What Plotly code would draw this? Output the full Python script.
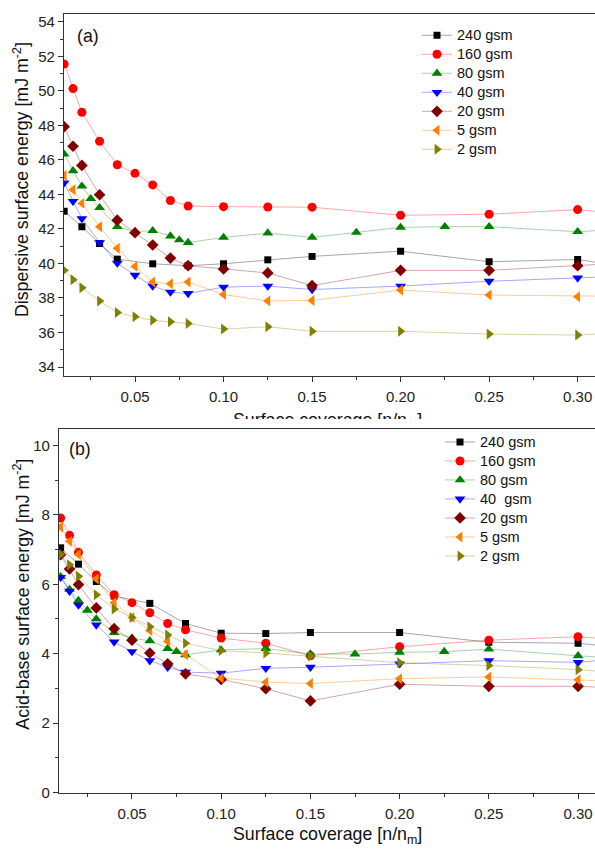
import plotly.graph_objects as go

W, H = 595, 854

# ---------------- data ----------------
names_a = ["240 gsm", "160 gsm", "80 gsm", "40 gsm", "20 gsm", "5 gsm", "2 gsm"]
names_b = ["240 gsm", "160 gsm", "80 gsm", "40  gsm", "20 gsm", "5 gsm", "2 gsm"]

x_std = [0.01, 0.015, 0.02, 0.03, 0.04, 0.05, 0.06, 0.07, 0.08, 0.10, 0.125, 0.15, 0.20, 0.25, 0.30, 0.35]
x_240 = [0.01, 0.02, 0.03, 0.04, 0.06, 0.08, 0.10, 0.125, 0.15, 0.20, 0.25, 0.30, 0.35]
x_80 = [0.01, 0.015, 0.02, 0.025, 0.03, 0.04, 0.05, 0.06, 0.07, 0.075, 0.08, 0.10, 0.125,
        0.15, 0.175, 0.20, 0.225, 0.25, 0.30, 0.35]

# (a) dispersive surface energy
ya_240 = [43.02, 42.13, 41.15, 40.25, 39.98, 39.87, 39.98, 40.21, 40.41, 40.71, 40.10, 40.23, 39.45]
ya_160 = [51.55, 50.13, 48.76, 47.08, 45.72, 45.22, 44.55, 43.65, 43.33, 43.29, 43.27, 43.26, 42.79, 42.85, 43.12, 42.63]
ya_80 = [46.33, 45.37, 44.48, 43.75, 43.23, 42.13, 41.85, 41.90, 41.59, 41.36, 41.21, 41.51, 41.76,
         41.51, 41.80, 42.09, 42.13, 42.13, 41.84, 42.13]
ya_40 = [44.67, 43.60, 42.60, 41.21, 40.02, 39.32, 38.69, 38.34, 38.26, 38.63, 38.69, 38.49, 38.69, 38.97, 39.16, 39.36]
ya_20 = [47.92, 46.79, 45.68, 43.98, 42.51, 41.78, 41.07, 40.31, 39.87, 39.68, 39.45, 38.72, 39.60, 39.60, 39.87, 40.16]
ya_5 = [45.09, 44.27, 43.48, 42.13, 40.88, 39.83, 38.92, 38.82, 38.92, 38.20, 37.83, 37.86, 38.46, 38.17, 38.07, 38.07]
ya_2 = [39.60, 39.06, 38.59, 37.83, 37.16, 36.91, 36.71, 36.62, 36.52, 36.20, 36.33, 36.07, 36.07, 35.91, 35.85, 36.14]

# (b) acid-base surface energy
yb_240 = [7.05, 6.58, 6.08, 5.66, 5.45, 4.87, 4.59, 4.58, 4.61, 4.61, 4.33, 4.30, 4.06]
yb_160 = [7.91, 7.41, 6.92, 6.27, 5.70, 5.47, 5.18, 4.87, 4.69, 4.45, 4.30, 3.94, 4.20, 4.39, 4.49, 4.30]
yb_80 = [6.22, 5.85, 5.53, 5.25, 5.00, 4.61, 4.45, 4.37, 4.15, 4.06, 3.97, 4.11, 4.15,
         3.99, 3.99, 4.04, 4.06, 4.13, 3.94, 3.79]
yb_40 = [6.20, 5.80, 5.40, 4.83, 4.34, 4.06, 3.80, 3.61, 3.47, 3.44, 3.58, 3.61, 3.71, 3.80, 3.75, 3.99]
yb_20 = [6.85, 6.44, 5.99, 5.32, 4.72, 4.39, 4.02, 3.71, 3.42, 3.26, 2.99, 2.64, 3.12, 3.06, 3.06, 2.96]
yb_5 = [7.65, 7.24, 6.86, 6.15, 5.47, 5.04, 4.67, 4.35, 3.97, 3.30, 3.18, 3.14, 3.28, 3.33, 3.25, 3.15]
yb_2 = [6.86, 6.56, 6.23, 5.70, 5.29, 5.04, 4.78, 4.54, 4.30, 4.09, 4.02, 3.93, 3.74, 3.66, 3.54, 3.35]

xs = [x_240, x_std, x_80, x_std, x_std, x_std, x_std]
ys_a = [ya_240, ya_160, ya_80, ya_40, ya_20, ya_5, ya_2]
ys_b = [yb_240, yb_160, yb_80, yb_40, yb_20, yb_5, yb_2]

# ---------------- style ----------------
colors = ["#000000", "#FF0000", "#008000", "#0000FF", "#800000", "#FF8000", "#808000"]
line_colors = ["rgba(0,0,0,0.35)", "rgba(255,0,0,0.35)", "rgba(0,128,0,0.35)", "rgba(0,0,255,0.35)",
               "rgba(128,0,0,0.35)", "rgba(255,128,0,0.4)", "rgba(128,128,0,0.35)"]
symbols = ["square", "circle", "triangle-up", "triangle-down", "diamond", "triangle-left", "triangle-right"]
sizes = [7, 9, 9.5, 9.5, 9, 9.5, 9.5]
FONT = "Arial, Liberation Sans, sans-serif"
LEG_TXT = '<span style="font-size:14.5px">{}</span>'

fig = go.Figure()
for i in range(7):
    fig.add_trace(go.Scatter(
        x=xs[i], y=ys_a[i], name=LEG_TXT.format(names_a[i]), mode="lines+markers",
        line=dict(color=line_colors[i], width=1),
        marker=dict(symbol=symbols[i], size=sizes[i], color=colors[i], line=dict(width=0)),
        xaxis="x", yaxis="y", legend="legend"))
for i in range(7):
    fig.add_trace(go.Scatter(
        x=xs[i], y=ys_b[i], name=LEG_TXT.format(names_b[i]), mode="lines+markers",
        line=dict(color=line_colors[i], width=1),
        marker=dict(symbol=symbols[i], size=sizes[i], color=colors[i], line=dict(width=0)),
        xaxis="x2", yaxis="y2", legend="legend2"))

def px_y(p):
    return 1 - p / H

axis_common = dict(showline=True, linecolor="#333333", linewidth=1.3, ticks="outside",
                   ticklen=5, tickwidth=1.2, tickcolor="#333333", showgrid=False, zeroline=False,
                   tickfont=dict(family=FONT, size=15, color="#222222"))
minor_x = dict(ticks="outside", ticklen=3, dtick=0.025, tick0=0, tickcolor="#333333")
minor_y = dict(ticks="outside", ticklen=3, dtick=1, tick0=0, tickcolor="#333333")

fig.update_layout(
    width=W, height=H, margin=dict(l=0, r=0, t=0, b=0),
    paper_bgcolor="white", plot_bgcolor="white",
    font=dict(family=FONT, color="#111111"),
    xaxis=dict(domain=[64 / W, 1], range=[0.0099, 0.3098], anchor="y", mirror=True,
               tick0=0, dtick=0.05, tickformat=".2f", ticklabelstandoff=2,
               minor=minor_x, **axis_common),
    yaxis=dict(domain=[px_y(379), px_y(13)], range=[33.48, 54.46], anchor="x",
               tick0=0, dtick=2, minor=minor_y, **axis_common),
    xaxis2=dict(domain=[59 / W, 1], range=[0.0091, 0.3095], anchor="y2", mirror=True,
                tick0=0, dtick=0.05, tickformat=".2f", ticklabelstandoff=2,
                minor=minor_x, **axis_common),
    yaxis2=dict(domain=[px_y(800), px_y(433)], range=[0, 10.46], anchor="x2",
                tick0=0, dtick=2, minor=minor_y, **axis_common),
    legend=dict(x=417 / W, y=px_y(20), xanchor="left", yanchor="top",
                font=dict(family=FONT, size=11.7, color="#111111"),
                bgcolor="rgba(0,0,0,0)", borderwidth=0, tracegroupgap=0),
    legend2=dict(x=440 / W, y=px_y(431), xanchor="left", yanchor="top",
                 font=dict(family=FONT, size=11.7, color="#111111"),
                 bgcolor="rgba(0,0,0,0)", borderwidth=0, tracegroupgap=0),
    showlegend=True,
)

ann_font = dict(family=FONT, size=17.8, color="#111111")
def note(text, x, y, **kw):
    fig.add_annotation(text=text, x=x / W, y=px_y(y), xref="paper", yref="paper",
                       xanchor=kw.pop("xanchor", "center"), yanchor=kw.pop("yanchor", "middle"),
                       showarrow=False, font=ann_font, **kw)

note("(a)", 88, 35)
note("(b)", 79.5, 453)
note("Dispersive surface energy [mJ m<sup>-2</sup>]", 21, 181, textangle=-90)
note("Acid-base surface energy [mJ m<sup>-2</sup>]", 21, 600, textangle=-90)
note("Surface coverage [n/n<sub>m</sub>]", 327.5, 843)
# top-panel x title, partly hidden under the lower panel in the original
note("Surface coverage [n/n<sub>m</sub>]", 327.5, 411, yanchor="top", height=9, valign="top")

fig.write_html("out.html")
